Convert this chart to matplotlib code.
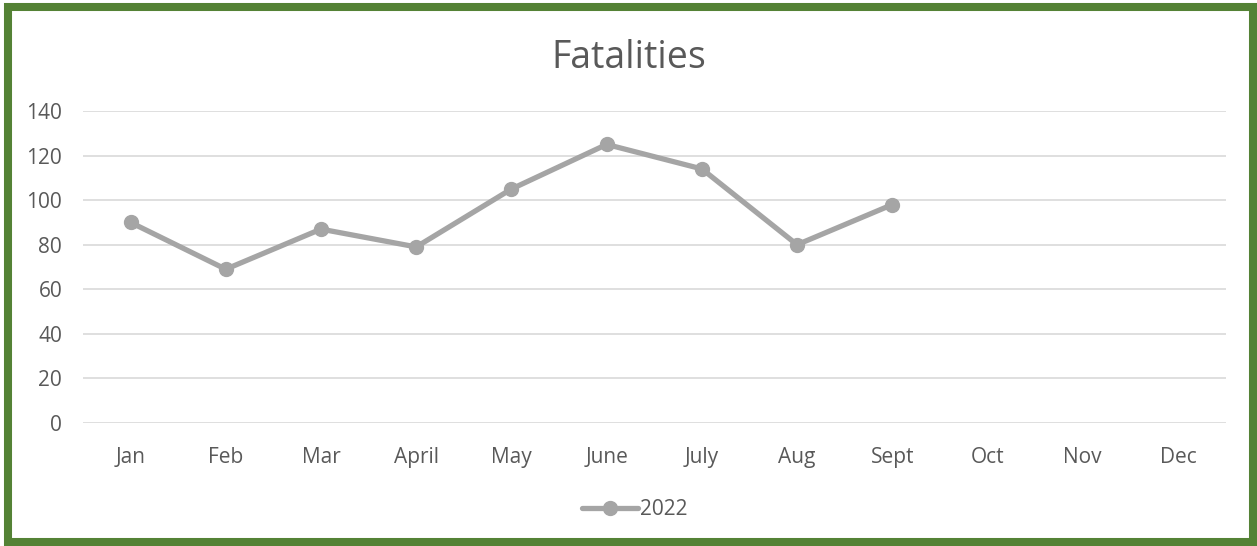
import matplotlib.pyplot as plt
from matplotlib.patches import Rectangle

plt.rcParams['font.family'] = ['Open Sans', 'DejaVu Sans']

# data
months = ['Jan', 'Feb', 'Mar', 'April', 'May', 'June', 'July', 'Aug',
          'Sept', 'Oct', 'Nov', 'Dec']
fatalities_2022 = [90, 69, 87, 79, 105, 125, 114, 80, 98]
yticks = [0, 20, 40, 60, 80, 100, 120, 140]

fig = plt.figure(figsize=(12.57, 5.46), dpi=100)
ax = fig.add_axes([0.066, 0.2253, 0.909, 0.5714])

x = list(range(len(fatalities_2022)))
ax.plot(x, fatalities_2022, color='#A5A5A5', linewidth=3.8, marker='o',
        markersize=10, solid_capstyle='round', label='2022', zorder=3)

ax.set_xlim(-0.5, len(months) - 0.5)
ax.set_ylim(0, 140)
ax.set_xticks(range(len(months)))
ax.set_xticklabels(months)
ax.set_yticks(yticks)
ax.tick_params(length=0, labelsize=15, colors='#595959')
ax.tick_params(axis='x', pad=17)
ax.tick_params(axis='y', pad=15)
ax.grid(axis='y', color='#D9D9D9', linewidth=1.2)
ax.set_axisbelow(True)
for s in ax.spines.values():
    s.set_visible(False)

fig.text(0.5, 0.893, 'Fatalities', ha='center', va='center',
         fontsize=27, color='#595959')

leg = fig.legend(loc='center', bbox_to_anchor=(0.505, 0.067), frameon=False,
                 fontsize=15, handlelength=2.7, handletextpad=0.1)
for t in leg.get_texts():
    t.set_color('#595959')

# green frame
fig.patches.append(Rectangle((0.0064, 0.0073), 0.9904, 0.98, transform=fig.transFigure,
                             fill=False, edgecolor='#548235', linewidth=5.8))

fig.savefig('out.png', dpi=100)
